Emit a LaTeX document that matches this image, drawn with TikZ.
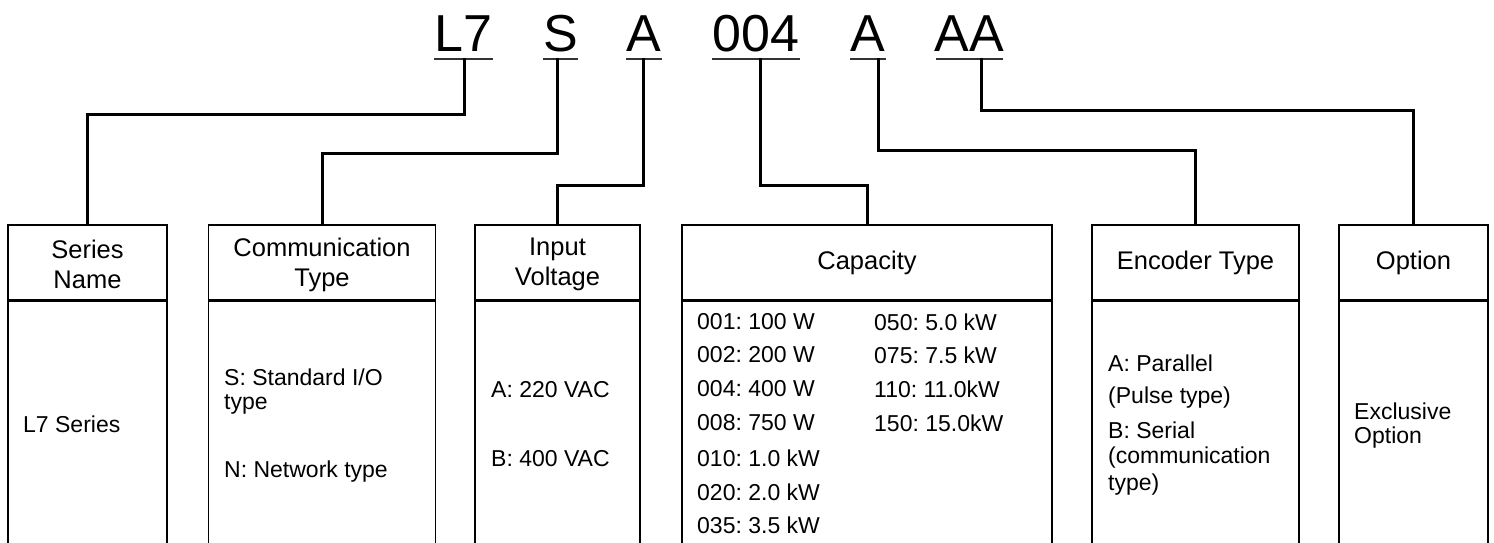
\documentclass[tikz,border=0pt]{standalone}
\usepackage{fontspec}
\setmainfont{Liberation Sans}
\frenchspacing
\begin{document}
\begin{tikzpicture}[x=1pt,y=-1pt,
  code/.style={font=\fontsize{52}{52}\selectfont, inner sep=0pt, anchor=base},
  uline/.style={line width=2pt, draw=black!80},
  conn/.style={line width=3pt, line cap=rect},
  hdr/.style={draw, line width=1.6pt, inner sep=0pt, align=center, font=\fontsize{25.5}{30}\selectfont},
  hdrtext/.style={inner sep=0pt, align=center, font=\fontsize{25.5}{30}\selectfont},
  bodybox/.style={draw, line width=1.6pt, inner sep=0pt},
  txt/.style={font=\fontsize{23}{27}\selectfont, inner sep=0pt, anchor=west, align=left},
]
\useasboundingbox (0,0) rectangle (1494,543);
\clip (0,0) rectangle (1494,543);
\fill[white] (0,0) rectangle (1494,543);

% code letters
\node[code] (c1) at (463.5,52) {L7};
\node[code] (c2) at (560.5,52) {S};
\node[code] (c3) at (644,52) {A};
\node[code] (c4) at (756,52) {004};
\node[code] (c5) at (868,52) {A};
\node[code] (c6) at (969.5,52) {AA};
\draw[uline] (434,59) -- (493,59);
\draw[uline] (543,59) -- (578,59);
\draw[uline] (626,59) -- (662,59);
\draw[uline] (712,59) -- (800,59);
\draw[uline] (850,59) -- (886,59);
\draw[uline] (936,59) -- (1003,59);
\coordinate (u1) at (464,60);
\coordinate (u2) at (557,60);
\coordinate (u3) at (643,60);
\coordinate (u4) at (760,60);
\coordinate (u5) at (878,60);
\coordinate (u6) at (981,60);

% header boxes
\node[hdr, minimum width=159, minimum height=75] (h1) at (87.5,262.5) {};
\node[hdr, minimum width=227, minimum height=75] (h2) at (322,262.5) {};
\node[hdr, minimum width=165, minimum height=75] (h3) at (557.5,262.5) {};
\node[hdr, minimum width=370, minimum height=75] (h4) at (867,262.5) {Capacity};
\node[hdr, minimum width=207, minimum height=75] (h5) at (1195.5,262.5) {Encoder Type};
\node[hdr, minimum width=149, minimum height=75] (h6) at (1413.5,262.5) {Option};
\node[hdrtext] (h1t) at (87.5,264.5) {Series\\Name};
\node[hdrtext] (h2t) at (322,264.5) {Communication\\Type};
\node[hdrtext] (h3t) at (557.5,264.5) {Input\\Voltage};

% body boxes
\node[bodybox, minimum width=159, minimum height=270, anchor=north] (b1) at (h1.south) {};
\node[bodybox, minimum width=227, minimum height=270, anchor=north] (b2) at (h2.south) {};
\node[bodybox, minimum width=165, minimum height=270, anchor=north] (b3) at (h3.south) {};
\node[bodybox, minimum width=370, minimum height=270, anchor=north] (b4) at (h4.south) {};
\node[bodybox, minimum width=207, minimum height=270, anchor=north] (b5) at (h5.south) {};
\node[bodybox, minimum width=149, minimum height=270, anchor=north] (b6) at (h6.south) {};

% connectors
\draw[conn] (u1) |- (h1.north |- 0,114) -- (h1.north);
\draw[conn] (u2) |- (h2.north |- 0,153) -- (h2.north);
\draw[conn] (u3) |- (h3.north |- 0,185) -- (h3.north);
\draw[conn] (u4) |- (h4.north |- 0,185) -- (h4.north);
\draw[conn] (u5) |- (h5.north |- 0,150) -- (h5.north);
\draw[conn] (u6) |- (h6.north |- 0,110) -- (h6.north);

% body texts
\node[txt] (t1) at (23,424) {L7 Series};
\node[txt] (t2a) at (224,377) {S: Standard I/O};
\node[txt] (t2b) at (224,404) {type};
\node[txt] (t2c) at (224,472) {N: Network type};
\node[txt] (t3a) at (491,390) {A: 220 VAC};
\node[txt] (t3b) at (491,459) {B: 400 VAC};

\node[txt] (k1) at (697,322) {001: 100 W};
\node[txt] (k2) at (697,355) {002: 200 W};
\node[txt] (k3) at (697,389) {004: 400 W};
\node[txt] (k4) at (697,423) {008: 750 W};
\node[txt] (k5) at (697,458) {010: 1.0 kW};
\node[txt] (k6) at (697,492) {020: 2.0 kW};
\node[txt] (k7) at (697,525) {035: 3.5 kW};
\node[txt] (k8) at (874,322) {050: 5.0 kW};
\node[txt] (k9) at (874,355) {075: 7.5 kW};
\node[txt] (k10) at (874,389) {110: 11.0kW};
\node[txt] (k11) at (874,423) {150: 15.0kW};

\node[txt] (e1) at (1108,363) {A: Parallel};
\node[txt] (e2) at (1108,398) {(Pulse type)};
\node[txt] (e3) at (1108,430) {B: Serial};
\node[txt] (e4) at (1108,458) {(communication};
\node[txt] (e5) at (1108,485) {type)};

\node[txt] (o1) at (1354,411) {Exclusive};
\node[txt] (o2) at (1354,438) {Option};
\end{tikzpicture}
\end{document}
